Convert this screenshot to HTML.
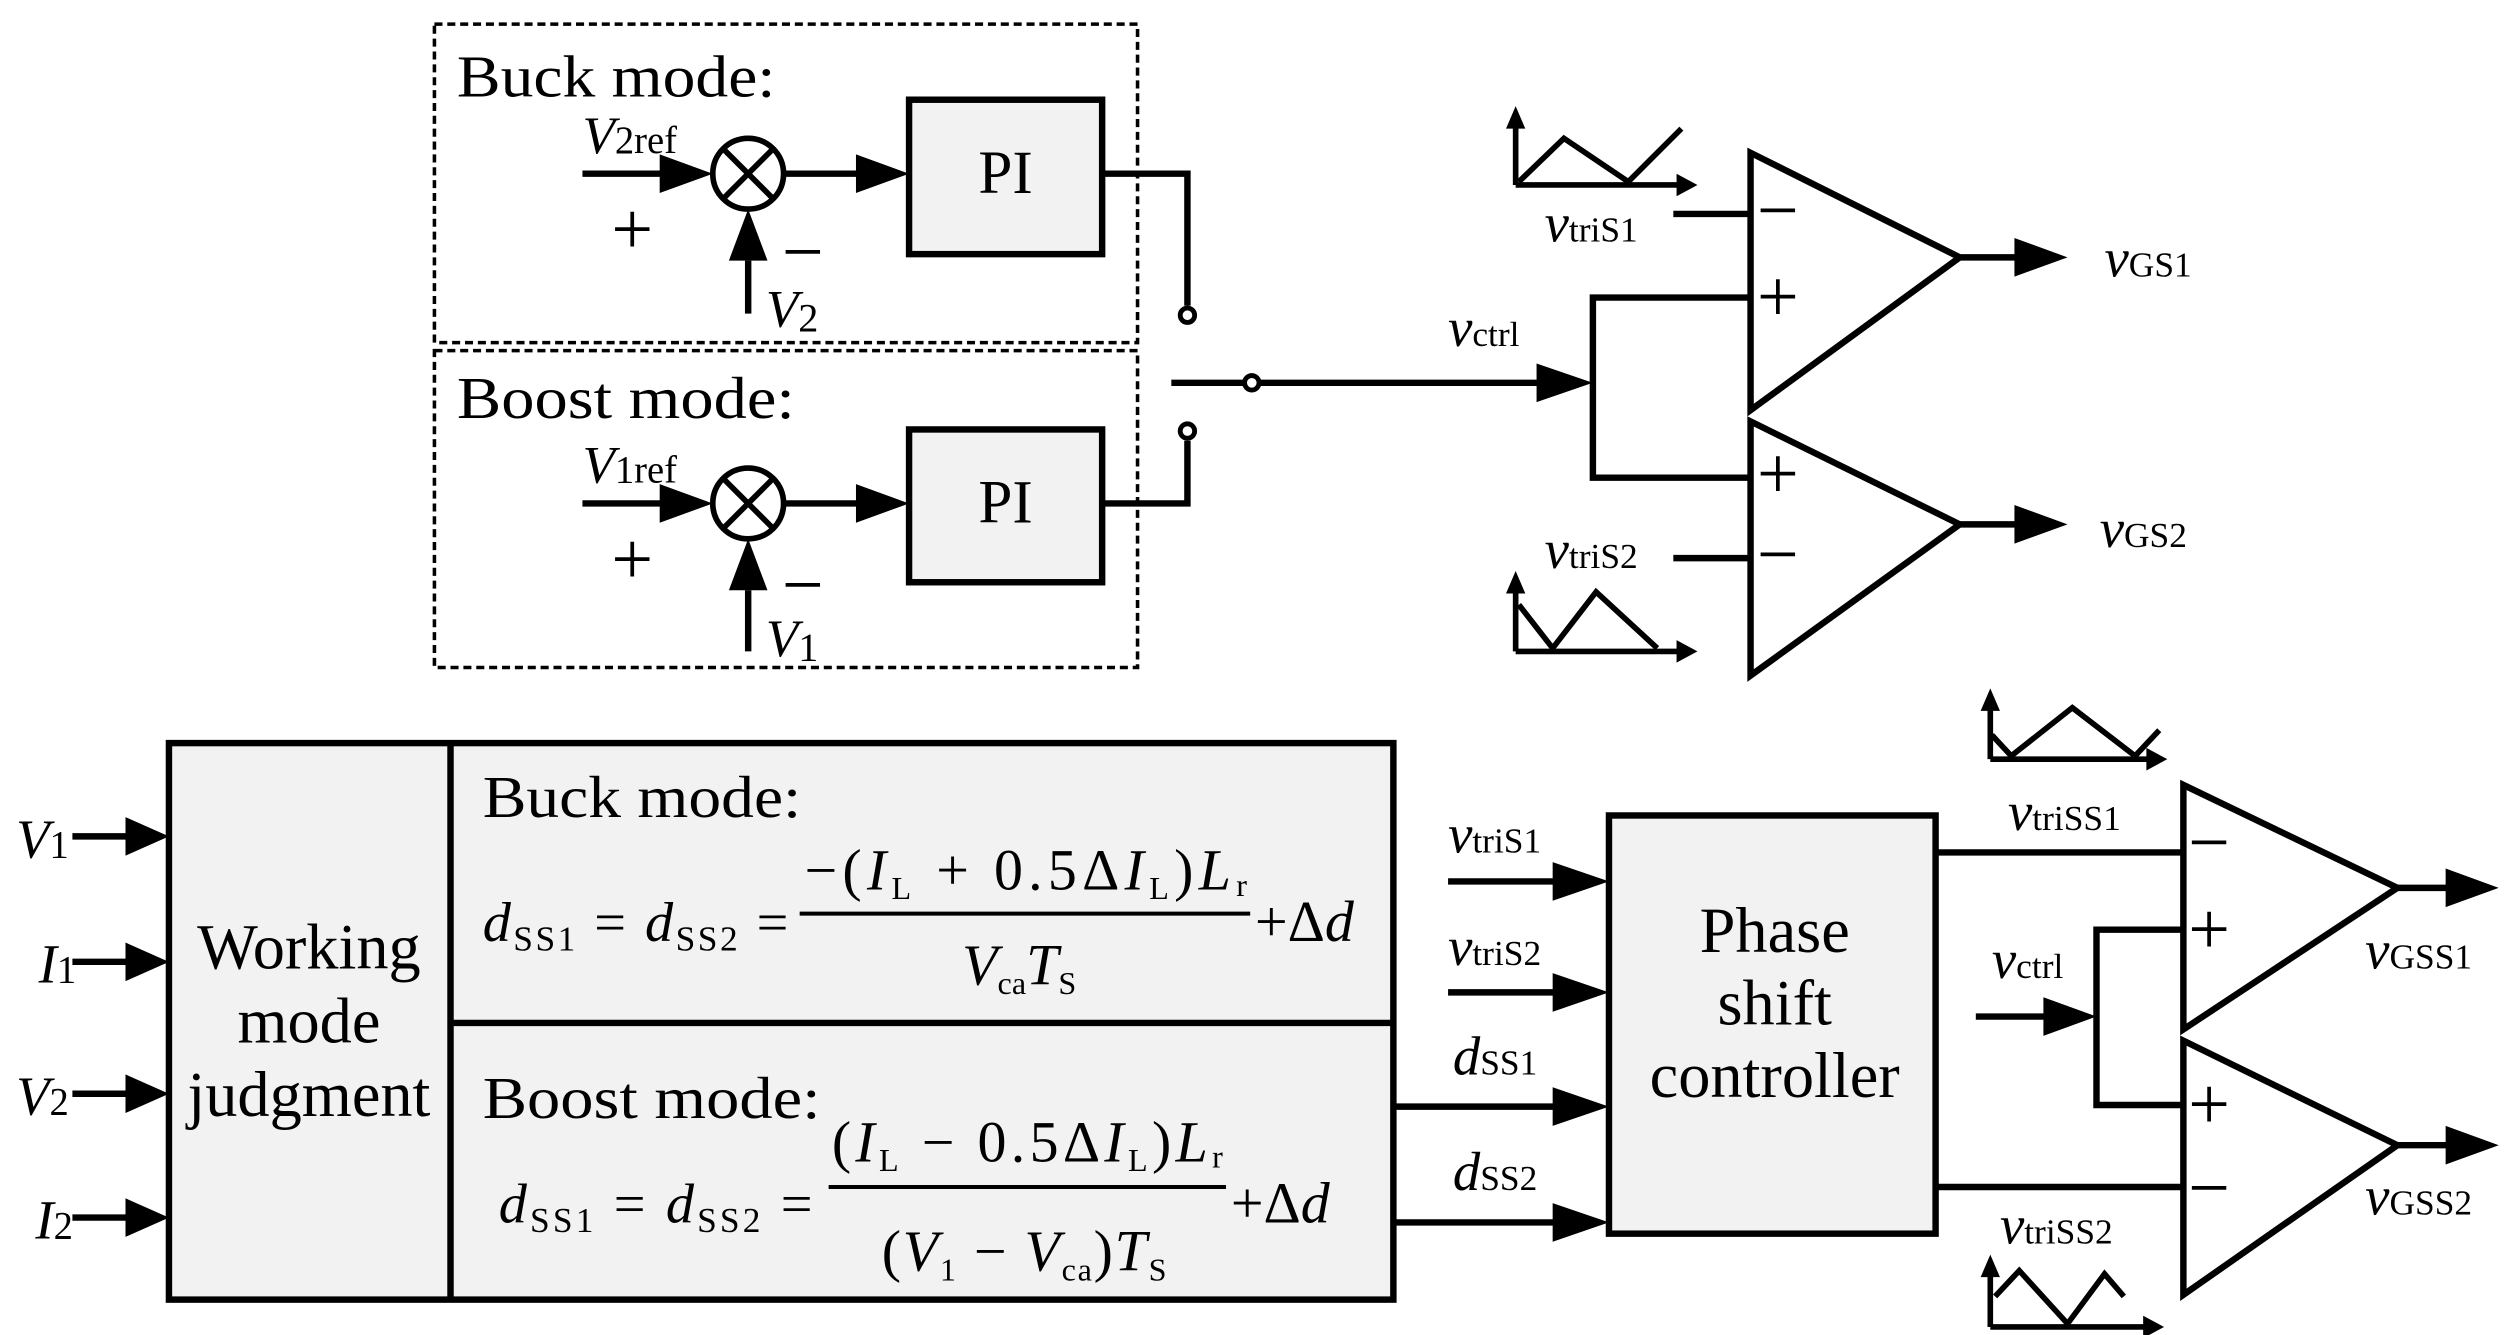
<!DOCTYPE html>
<html><head><meta charset="utf-8"><style>
html,body{margin:0;padding:0;background:#fff;}
svg{display:block;}
text{font-family:"Liberation Serif",serif;fill:#000;}
.i{font-style:italic;}
</style></head><body>
<svg width="2510" height="1335" viewBox="0 0 1560 830" preserveAspectRatio="none" xmlns="http://www.w3.org/2000/svg">
<g stroke="#000" stroke-width="4" fill="none" stroke-linejoin="miter">
<rect x="270" y="15" width="437" height="198" stroke-width="2.2" stroke-dasharray="5,3"/>
<rect x="270" y="218" width="437" height="197" stroke-width="2.2" stroke-dasharray="5,3"/>
<circle cx="465" cy="108" r="22" stroke-width="3.5"/>
<path d="M450,93L480,123M480,93L450,123" stroke-width="3.5"/>
<path d="M362,108H413"/><path d="M410,96L443,108L410,120z" fill="#000" stroke="none"/>
<path d="M465,195V162"/><path d="M453,162L465,130L477,162z" fill="#000" stroke="none"/>
<path d="M487,108H535"/><path d="M532,96L565,108L532,120z" fill="#000" stroke="none"/>
<rect x="565" y="62" width="120" height="96" fill="#f2f2f2"/>
<path d="M685,108H738V190"/><circle cx="738" cy="196" r="4.5" stroke-width="3"/>
<circle cx="465" cy="313" r="22" stroke-width="3.5"/>
<path d="M450,298L480,328M480,298L450,328" stroke-width="3.5"/>
<path d="M362,313H413"/><path d="M410,301L443,313L410,325z" fill="#000" stroke="none"/>
<path d="M465,405V367"/><path d="M453,367L465,335L477,367z" fill="#000" stroke="none"/>
<path d="M487,313H535"/><path d="M532,301L565,313L532,325z" fill="#000" stroke="none"/>
<rect x="565" y="267" width="120" height="95" fill="#f2f2f2"/>
<path d="M685,313H738V274"/><circle cx="738" cy="268" r="4.5" stroke-width="3"/>
<path d="M728,238H773"/><circle cx="778" cy="238" r="4.5" stroke-width="3"/>
<path d="M783,238H960"/><path d="M955,226L990,238L955,250z" fill="#000" stroke="none"/>
<path d="M1088,185H990V297H1088"/>
<path d="M1088,95V255L1218,160z"/>
<path d="M1040,133H1088"/>
<path d="M1218,160H1255"/><path d="M1252,148L1285,160L1252,172z" fill="#000" stroke="none"/>
<path d="M1088,262V420L1218,326z"/>
<path d="M1040,347H1088"/>
<path d="M1218,326H1255"/><path d="M1252,314L1285,326L1252,338z" fill="#000" stroke="none"/>
<path d="M942,115V78M942,115H1044" stroke-width="3.5"/>
<path d="M936,80L942,66L948,80z" fill="#000" stroke="none"/><path d="M1042,108L1055,115L1042,122z" fill="#000" stroke="none"/>
<path d="M944,113L972,86L1012,113L1045,80" stroke-width="3.5"/>
<path d="M942,405V367M942,405H1044" stroke-width="3.5"/>
<path d="M936,369L942,355L948,369z" fill="#000" stroke="none"/><path d="M1042,398L1055,405L1042,412z" fill="#000" stroke="none"/>
<path d="M944,376L965,403L992,368L1030,403" stroke-width="3.5"/>
<rect x="105" y="462" width="761" height="346" fill="#f2f2f2"/>
<path d="M280,462V808M280,636H866"/>
<path d="M45,520H80M45,598H80M45,680H80M45,757H80"/>
<path d="M78,508L105,520L78,532zM78,586L105,598L78,610zM78,668L105,680L78,692zM78,745L105,757L78,769z" fill="#000" stroke="none"/>
<path d="M497,568H777M515,738H762" stroke-width="2.5"/>
<rect x="1000" y="507" width="203" height="260" fill="#f2f2f2"/>
<path d="M900,548H970M900,617H970M866,688H970M866,760H970"/>
<path d="M965,536L1000,548L965,560zM965,605L1000,617L965,629zM965,676L1000,688L965,700zM965,748L1000,760L965,772z" fill="#000" stroke="none"/>
<path d="M1203,530H1357M1203,738H1357"/>
<path d="M1357,488V640L1490,552z"/>
<path d="M1357,647V805L1490,712z"/>
<path d="M1490,552H1525M1490,712H1525"/>
<path d="M1520,540L1553,552L1520,564zM1520,700L1553,712L1520,724z" fill="#000" stroke="none"/>
<path d="M1228,632H1275"/><path d="M1270,620L1303,632L1270,644z" fill="#000" stroke="none"/>
<path d="M1357,578H1303V687H1357"/>
<path d="M1237,472V440M1237,472H1336" stroke-width="3.5"/>
<path d="M1231,442L1237,428L1243,442z" fill="#000" stroke="none"/><path d="M1334,465L1347,472L1334,479z" fill="#000" stroke="none"/>
<path d="M1238,457L1250,470L1288,440L1327,470L1342,454" stroke-width="3.5"/>
<path d="M1237,825V792M1237,825H1334" stroke-width="3.5"/>
<path d="M1231,794L1237,780L1243,794z" fill="#000" stroke="none"/><path d="M1332,818L1345,825L1332,832z" fill="#000" stroke="none"/>
<path d="M1240,806L1255,790L1285,823L1308,792L1320,806" stroke-width="3.5"/>
</g>
<g font-size="46">
<text x="380" y="158">+</text><text x="380" y="363">+</text>
<text x="486" y="172">−</text><text x="486" y="379">−</text>
<text x="1092" y="146">−</text><text x="1092" y="200">+</text>
<text x="1092" y="310">+</text><text x="1092" y="360">−</text>
<text x="1360" y="539">−</text><text x="1360" y="593">+</text>
<text x="1360" y="702">+</text><text x="1360" y="754">−</text>
</g>
<g font-size="37">
<text x="284" y="60" textLength="198" lengthAdjust="spacingAndGlyphs">Buck mode:</text>
<text x="284" y="260" textLength="210" lengthAdjust="spacingAndGlyphs">Boost mode:</text>
<text x="625" y="120" text-anchor="middle" font-size="38">PI</text><text x="625" y="325" text-anchor="middle" font-size="38">PI</text>
<text x="362" y="95" class="i" font-size="33">V<tspan font-style="normal" font-size="24">2ref</tspan></text>
<text x="362" y="300" class="i" font-size="33">V<tspan font-style="normal" font-size="24">1ref</tspan></text>
<text x="476" y="203" class="i" font-size="33">V<tspan font-style="normal" font-size="25" dy="3">2</tspan></text>
<text x="476" y="408" class="i" font-size="33">V<tspan font-style="normal" font-size="25" dy="3">1</tspan></text>
<text x="900" y="215" class="i" font-size="34">v<tspan font-style="normal" font-size="22">ctrl</tspan></text>
<text x="960" y="150" class="i" font-size="34">v<tspan font-style="normal" font-size="22">triS1</tspan></text>
<text x="960" y="353" class="i" font-size="34">v<tspan font-style="normal" font-size="22">triS2</tspan></text>
<text x="1308" y="172" class="i" font-size="34">v<tspan font-style="normal" font-size="22">GS1</tspan></text>
<text x="1305" y="340" class="i" font-size="34">v<tspan font-style="normal" font-size="22">GS2</tspan></text>
<text x="192" y="602" text-anchor="middle" font-size="40">Working</text>
<text x="192" y="648" text-anchor="middle" font-size="40">mode</text>
<text x="192" y="694" text-anchor="middle" font-size="40">judgment</text>
<text x="10" y="533" class="i" font-size="34">V<tspan font-style="normal" font-size="24">1</tspan></text>
<text x="24" y="611" class="i" font-size="34">I<tspan font-style="normal" font-size="24">1</tspan></text>
<text x="10" y="693" class="i" font-size="34">V<tspan font-style="normal" font-size="24">2</tspan></text>
<text x="22" y="770" class="i" font-size="34">I<tspan font-style="normal" font-size="24">2</tspan></text>
<text x="300" y="508" textLength="198" lengthAdjust="spacingAndGlyphs">Buck mode:</text>
<text x="300" y="695" textLength="210" lengthAdjust="spacingAndGlyphs">Boost mode:</text>
<text x="300" y="585" font-size="35" textLength="190" lengthAdjust="spacing"><tspan class="i">d</tspan><tspan font-size="22" dy="6">SS1</tspan><tspan dy="-6"> = </tspan><tspan class="i">d</tspan><tspan font-size="22" dy="6">SS2</tspan><tspan dy="-6"> =</tspan></text>
<text x="500" y="553" font-size="36" textLength="275" lengthAdjust="spacing">−(<tspan class="i">I</tspan><tspan font-size="20" dy="6">L</tspan><tspan dy="-6"> + 0.5Δ</tspan><tspan class="i">I</tspan><tspan font-size="20" dy="6">L</tspan><tspan dy="-6">)</tspan><tspan class="i">L</tspan><tspan font-size="20" dy="4">r</tspan></text>
<text x="598" y="612" font-size="36"><tspan class="i">V</tspan><tspan font-size="20" dy="6">ca</tspan><tspan class="i" dy="-6">T</tspan><tspan font-size="20" dy="6">S</tspan></text>
<text x="780" y="585" font-size="36">+Δ<tspan class="i">d</tspan></text>
<text x="310" y="760" font-size="35" textLength="195" lengthAdjust="spacing"><tspan class="i">d</tspan><tspan font-size="22" dy="6">SS1</tspan><tspan dy="-6"> = </tspan><tspan class="i">d</tspan><tspan font-size="22" dy="6">SS2</tspan><tspan dy="-6"> =</tspan></text>
<text x="517" y="722" font-size="36" textLength="243" lengthAdjust="spacing">(<tspan class="i">I</tspan><tspan font-size="20" dy="6">L</tspan><tspan dy="-6"> − 0.5Δ</tspan><tspan class="i">I</tspan><tspan font-size="20" dy="6">L</tspan><tspan dy="-6">)</tspan><tspan class="i">L</tspan><tspan font-size="20" dy="4">r</tspan></text>
<text x="548" y="790" font-size="36" textLength="177" lengthAdjust="spacing">(<tspan class="i">V</tspan><tspan font-size="20" dy="6">1</tspan><tspan dy="-6"> − </tspan><tspan class="i">V</tspan><tspan font-size="20" dy="6">ca</tspan><tspan dy="-6">)</tspan><tspan class="i">T</tspan><tspan font-size="20" dy="6">S</tspan></text>
<text x="765" y="760" font-size="36">+Δ<tspan class="i">d</tspan></text>
<text x="1103" y="592" text-anchor="middle" font-size="40">Phase</text>
<text x="1103" y="637" text-anchor="middle" font-size="40">shift</text>
<text x="1103" y="682" text-anchor="middle" font-size="40">controller</text>
<text x="900" y="530" class="i" font-size="34">v<tspan font-style="normal" font-size="22">triS1</tspan></text>
<text x="900" y="600" class="i" font-size="34">v<tspan font-style="normal" font-size="22">triS2</tspan></text>
<text x="903" y="668" class="i" font-size="34">d<tspan font-style="normal" font-size="22">SS1</tspan></text>
<text x="903" y="740" class="i" font-size="34">d<tspan font-style="normal" font-size="22">SS2</tspan></text>
<text x="1248" y="516" class="i" font-size="34">v<tspan font-style="normal" font-size="22">triSS1</tspan></text>
<text x="1243" y="773" class="i" font-size="34">v<tspan font-style="normal" font-size="22">triSS2</tspan></text>
<text x="1238" y="608" class="i" font-size="34">v<tspan font-style="normal" font-size="22">ctrl</tspan></text>
<text x="1470" y="602" class="i" font-size="34">v<tspan font-style="normal" font-size="22">GSS1</tspan></text>
<text x="1470" y="755" class="i" font-size="34">v<tspan font-style="normal" font-size="22">GSS2</tspan></text>
</g>
</svg>
</body></html>
